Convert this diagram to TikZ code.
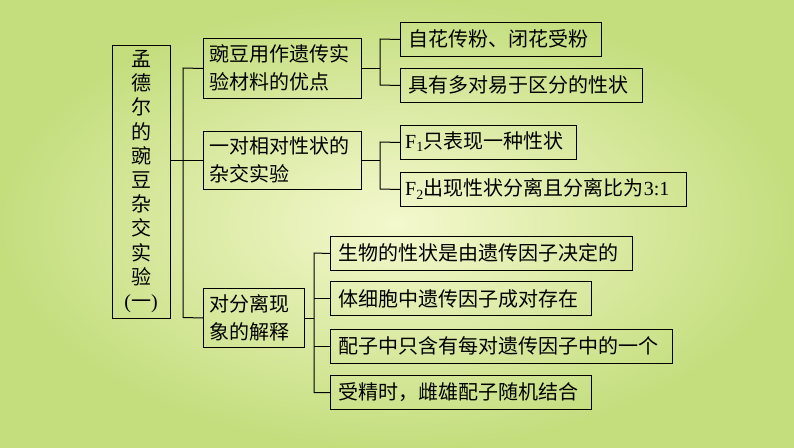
\documentclass[tikz,border=0pt]{standalone}
\usepackage{fontspec}
\setmainfont{Liberation Serif}
\newfontfamily\cjk{Noto Sans CJK SC}
\definecolor{bgin}{RGB}{244,248,206}
\definecolor{bgout}{RGB}{196,222,126}
\begin{document}
\begin{tikzpicture}[x=1pt,y=-1pt,
  bx/.style={draw=black,line width=1pt,anchor=north west,inner sep=0pt},
  tx/.style={font=\cjk\fontsize{20}{28}\selectfont,inner sep=0pt},
  ln/.style={draw=black,line width=1pt}]
\shade[inner color=bgin,outer color=bgout] (0,0) rectangle (794,447);
\useasboundingbox (0,0) rectangle (794,447);
% left
\node[bx,minimum width=58,minimum height=273] (L) at (112,45) {};
\node[tx,font=\cjk\fontsize{20}{24.2}\selectfont,align=center] (Lt) at (141,181.5) {孟\\德\\尔\\的\\豌\\豆\\杂\\交\\实\\验\\\textrm{(}一\textrm{)}};
% mid
\node[bx,minimum width=158,minimum height=60] (M1) at (203,38) {};
\node[tx,align=left,anchor=west] (M1t) at (209,68) {豌豆用作遗传实\\验材料的优点};
\node[bx,minimum width=158,minimum height=58] (M2) at (203,131) {};
\node[tx,align=left,anchor=west] (M2t) at (209,160) {一对相对性状的\\杂交实验};
\node[bx,minimum width=101,minimum height=59] (M3) at (203,288) {};
\node[tx,align=left,anchor=west] (M3t) at (209,317.5) {对分离现\\象的解释};
% right
\tikzset{rb/.style={bx,minimum height=34}}
\node[rb,minimum width=201] (R1) at (400,22) {};
\node[tx,anchor=west] (R1t) at (408,39) {自花传粉、闭花受粉};
\node[rb,minimum width=242] (R2) at (400,68) {};
\node[tx,anchor=west] (R2t) at (408,85) {具有多对易于区分的性状};
\node[rb,minimum width=176] (R3) at (400,125) {};
\node[tx,anchor=west] (R3t) at (405,142) {\textrm{F\textsubscript{1}}只表现一种性状};
\node[rb,minimum width=286] (R4) at (400,172) {};
\node[tx,anchor=west] (R4t) at (405,189) {\textrm{F\textsubscript{2}}出现性状分离且分离比为\textrm{3:1}};
\node[rb,minimum width=302] (S1) at (330,236) {};
\node[tx,anchor=west] (S1t) at (338,253) {生物的性状是由遗传因子决定的};
\node[rb,minimum width=261] (S2) at (330,281) {};
\node[tx,anchor=west] (S2t) at (338,298.5) {体细胞中遗传因子成对存在};
\node[rb,minimum width=342] (S3) at (330,329) {};
\node[tx,anchor=west] (S3t) at (338,346) {配子中只含有每对遗传因子中的一个};
\node[rb,minimum width=261] (S4) at (330,375) {};
\node[tx,anchor=west] (S4t) at (338,392.5) {受精时，雌雄配子随机结合};
% connectors
\coordinate (t1) at (183,68); \coordinate (t3) at (183,317.5);
\draw[ln] (L.east |- M2.west) -- (M2.west);
\draw[ln] (M1.west) -- (t1) -- (t3) -- (M3.west);
\coordinate (a) at (380,39); \coordinate (b) at (380,85);
\draw[ln] (M1.east) -- (M1.east -| a);
\draw[ln] (R1.west) -- (a) -- (b) -- (R2.west);
\coordinate (c) at (380,142); \coordinate (d) at (380,189);
\draw[ln] (M2.east) -- (M2.east -| c);
\draw[ln] (R3.west) -- (c) -- (d) -- (R4.west);
\coordinate (e) at (314,253); \coordinate (f) at (314,392.5);
\draw[ln] (M3.east) -- (M3.east -| e);
\draw[ln] (S1.west) -- (e) -- (f) -- (S4.west);
\draw[ln] (S2.west) -- (S2.west -| e);
\draw[ln] (S3.west) -- (S3.west -| e);
\end{tikzpicture}
\end{document}
